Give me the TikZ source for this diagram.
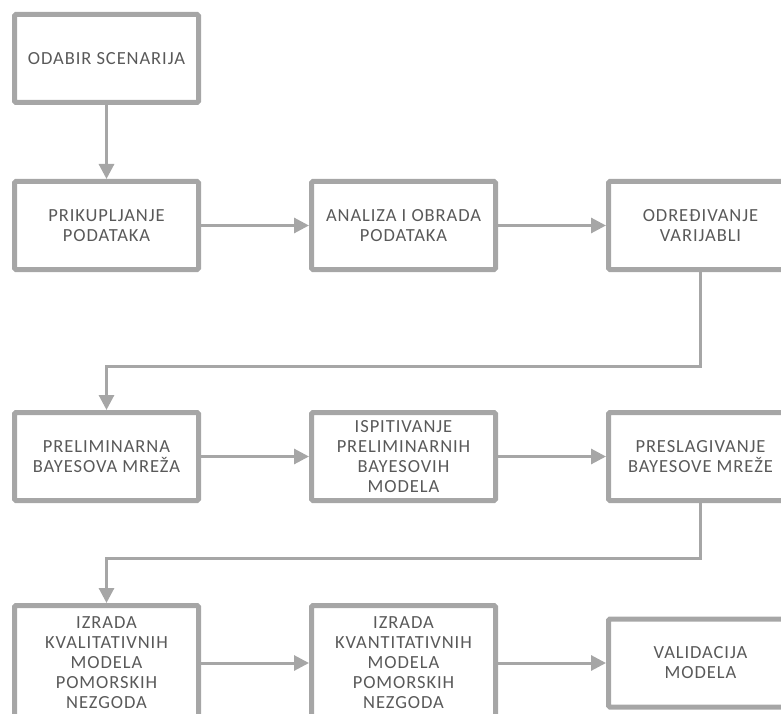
\documentclass[tikz,border=0pt]{standalone}
\usepackage{fontspec}
\setmainfont{Carlito}
\newfontfamily\boxfont[LetterSpace=5]{Carlito}
\usetikzlibrary{arrows.meta, positioning}
\definecolor{boxgray}{HTML}{A6A6A6}
\definecolor{textgray}{HTML}{595959}
\tikzstyle{stepbox} = [
    rectangle,
    rounded corners=1.5pt,
    minimum width=184pt,
    minimum height=88pt,
    align=center,
    draw=boxgray,
    line width=5pt,
    text=textgray,
    font=\boxfont\fontsize{18.5}{20}\selectfont
]
\tikzstyle{tallbox} = [stepbox, minimum height=115pt]
\tikzstyle{arrow} = [draw=boxgray, line width=3pt, -{Triangle[length=15pt, width=15pt]}]

\begin{document}
\begin{tikzpicture}[node distance=108pt]
\path[use as bounding box, clip] (0,0) rectangle (781pt,-714pt);

\node (odabir) [stepbox] at (106.5pt,-58.5pt) {ODABIR SCENARIJA};

\node (prikup) [stepbox, below=74pt of odabir] {PRIKUPLJANJE\\PODATAKA};
\node (analiza) [stepbox, right=of prikup] {ANALIZA I OBRADA\\PODATAKA};
\node (odred) [stepbox, right=of analiza] {ODREĐIVANJE\\VARIJABLI};

\node (prelim) [stepbox, below=138pt of prikup] {PRELIMINARNA\\BAYESOVA MREŽA};
\node (ispit) [stepbox, right=of prelim] {ISPITIVANJE\\PRELIMINARNIH\\BAYESOVIH\\MODELA};
\node (presl) [stepbox, right=of ispit] {PRESLAGIVANJE\\BAYESOVE MREŽE};

\node (kval) [tallbox, below=100pt of prelim] {IZRADA\\KVALITATIVNIH\\MODELA\\POMORSKIH\\NEZGODA};
\node (kvant) [tallbox, right=of kval] {IZRADA\\KVANTITATIVNIH\\MODELA\\POMORSKIH\\NEZGODA};
\node (valid) [stepbox, right=of kvant] {VALIDACIJA\\MODELA};

\draw [arrow] (odabir) -- (prikup);
\draw [arrow] (prikup) -- (analiza);
\draw [arrow] (analiza) -- (odred);
\draw [arrow] (odred.south) -- ++(0,-94pt) -| (prelim.north);
\draw [arrow] (prelim) -- (ispit);
\draw [arrow] (ispit) -- (presl);
\draw [arrow] (presl.south) -- ++(0,-55pt) -| (kval.north);
\draw [arrow] (kval) -- (kvant);
\draw [arrow] (kvant) -- (valid);

\end{tikzpicture}
\end{document}
